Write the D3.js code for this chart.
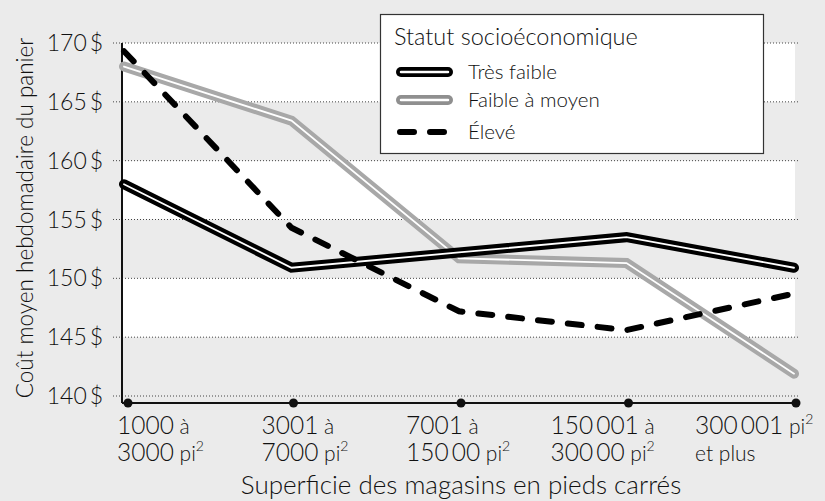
<!DOCTYPE html>
<html>
<head>
<meta charset="utf-8">
<script src="https://cdn.jsdelivr.net/npm/d3@7"></script>
<style>
  body { margin: 0; background: #ebebeb; }
  svg { display: block; font-family: Lato, "Open Sans", sans-serif; font-weight: 300; }
</style>
</head>
<body>
<div id="chart"></div>
<script>
// DATA
let categories = ["1000 à 3000 pi²", "3001 à 7000 pi²", "7001 à 150 00 pi²", "150 001 à 300 00 pi²", "300 001 pi² et plus"];
let tresFaible = [158.0, 150.9, 152.2, 153.5, 150.9];
let faibleMoyen = [168.0, 163.4, 151.7, 151.3, 141.9];
let eleve = [169.3, 154.3, 147.2, 145.6, 148.7];
let yTicks = [140, 145, 150, 155, 160, 165, 170];
let whiteBands = [[165, 170], [155, 160], [145, 150]];
// tick labels: [big text, small suffix, superscript]
let labelLine1 = [["1000", " à", ""], ["3001", " à", ""], ["7001", " à", ""], ["150\u2009001", " à", ""], ["300\u2009001", " pi", "2"]];
let labelLine2 = [["3000", " pi", "2"], ["7000", " pi", "2"], ["150\u200900", " pi", "2"], ["300\u200900", " pi", "2"], ["", "et plus", ""]];

let width = 825, height = 501;
let plot = {left: 122, right: 795, top: 43, bottom: 396, axisY: 403};

let svg = d3.select('#chart').append('svg')
    .attr('width', width)
    .attr('height', height);

svg.append('rect').attr('width', width).attr('height', height).attr('fill', '#ebebeb');

let x = d3.scalePoint()
    .domain(categories)
    .range([plot.left + 2, plot.right - 1]);

let y = d3.scaleLinear()
    .domain([140, 170])
    .range([plot.bottom, plot.top]);

// white bands
svg.selectAll('.band')
    .data(whiteBands)
    .enter()
    .append('rect')
    .attr('class', 'band')
    .attr('x', plot.left)
    .attr('width', plot.right - plot.left)
    .attr('y', d => y(d[1]))
    .attr('height', d => y(d[0]) - y(d[1]))
    .attr('fill', '#fff');

// dotted grid
svg.selectAll('.grid')
    .data(yTicks)
    .enter()
    .append('line')
    .attr('class', 'grid')
    .attr('x1', 113)
    .attr('x2', 798)
    .attr('y1', d => y(d))
    .attr('y2', d => y(d))
    .attr('stroke', '#444')
    .attr('stroke-width', 1)
    .attr('stroke-dasharray', '1,2');

// y tick labels
svg.selectAll('.ylab')
    .data(yTicks)
    .enter()
    .append('text')
    .attr('class', 'ylab')
    .attr('x', 103)
    .attr('y', d => y(d) + 8)
    .attr('text-anchor', 'end')
    .attr('font-size', 23)
    .attr('fill', '#111')
    .text(d => d + '\u2009$');

// axes
svg.append('line')
    .attr('x1', plot.left).attr('x2', plot.left)
    .attr('y1', plot.top).attr('y2', plot.axisY)
    .attr('stroke', '#111').attr('stroke-width', 2);

svg.append('line')
    .attr('x1', plot.left).attr('x2', 797)
    .attr('y1', plot.axisY).attr('y2', plot.axisY)
    .attr('stroke', '#111').attr('stroke-width', 2);

svg.selectAll('.tickdot')
    .data(categories)
    .enter()
    .append('circle')
    .attr('cx', (d, i) => i == 0 ? x(d) + 4 : x(d) + 2)
    .attr('cy', plot.axisY)
    .attr('r', 4.5)
    .attr('fill', '#111');

// x tick labels
function addLabel(parts, i, baseline) {
    let t = svg.append('text')
        .attr('x', 117 + i * 144.5)
        .attr('y', baseline)
        .attr('fill', '#111');
    t.append('tspan').attr('font-size', 24.5).text(parts[0]);
    t.append('tspan').attr('font-size', 21).text(parts[1]);
    if (parts[2]) {
        t.append('tspan').attr('font-size', 14).attr('dy', -10).text(parts[2]);
    }
}
labelLine1.forEach((p, i) => addLabel(p, i, 434));
labelLine2.forEach((p, i) => addLabel(p, i, 461));

// lines
let line = d3.line()
    .x((d, i) => x(categories[i]))
    .y(d => y(d));

function doubleLine(values, color) {
    svg.append('path')
        .attr('d', line(values))
        .attr('fill', 'none')
        .attr('stroke', color)
        .attr('stroke-width', 10)
        .attr('stroke-linecap', 'round');
    svg.append('path')
        .attr('d', line(values))
        .attr('fill', 'none')
        .attr('stroke', '#fff')
        .attr('stroke-width', 1.8)
        .attr('stroke-linecap', 'round');
}

doubleLine(faibleMoyen, '#a8a8a8');
doubleLine(tresFaible, '#000');

svg.append('path')
    .attr('d', line(eleve))
    .attr('fill', 'none')
    .attr('stroke', '#000')
    .attr('stroke-width', 6)
    .attr('stroke-linecap', 'round')
    .attr('stroke-dasharray', '14,16');

// axis titles
svg.append('text')
    .attr('transform', 'translate(33,218) rotate(-90)')
    .attr('text-anchor', 'middle')
    .attr('font-size', 22.5)
    .attr('fill', '#111')
    .text('Coût moyen hebdomadaire du panier');

svg.append('text')
    .attr('x', 461)
    .attr('y', 494)
    .attr('text-anchor', 'middle')
    .attr('font-size', 26)
    .attr('fill', '#111')
    .text('Superficie des magasins en pieds carrés');

// legend
let legend = svg.append('g');
legend.append('rect')
    .attr('x', 380.5).attr('y', 14.5)
    .attr('width', 383).attr('height', 139)
    .attr('fill', '#fff')
    .attr('stroke', '#333')
    .attr('stroke-width', 1.2);

legend.append('text')
    .attr('x', 394).attr('y', 45)
    .attr('font-size', 23.5)
    .attr('fill', '#111')
    .text('Statut socioéconomique');

let legendItems = [
    {name: 'Très faible', color: '#000', double: true, ly: 72},
    {name: 'Faible à moyen', color: '#8f8f8f', double: true, ly: 100},
    {name: 'Élevé', color: '#000', double: false, ly: 132}
];

legendItems.forEach(it => {
    if (it.double) {
        legend.append('line')
            .attr('x1', 401).attr('x2', 448)
            .attr('y1', it.ly).attr('y2', it.ly)
            .attr('stroke', it.color).attr('stroke-width', 10)
            .attr('stroke-linecap', 'round');
        legend.append('line')
            .attr('x1', 401).attr('x2', 448)
            .attr('y1', it.ly).attr('y2', it.ly)
            .attr('stroke', '#fff').attr('stroke-width', 2.5)
            .attr('stroke-linecap', 'round');
    } else {
        legend.append('line')
            .attr('x1', 400).attr('x2', 450)
            .attr('y1', it.ly).attr('y2', it.ly)
            .attr('stroke', it.color).attr('stroke-width', 6)
            .attr('stroke-linecap', 'round')
            .attr('stroke-dasharray', '14,16');
    }
    legend.append('text')
        .attr('x', 468).attr('y', it.ly + 7)
        .attr('font-size', 20.5)
        .attr('fill', '#111')
        .text(it.name);
});
</script>
</body>
</html>
